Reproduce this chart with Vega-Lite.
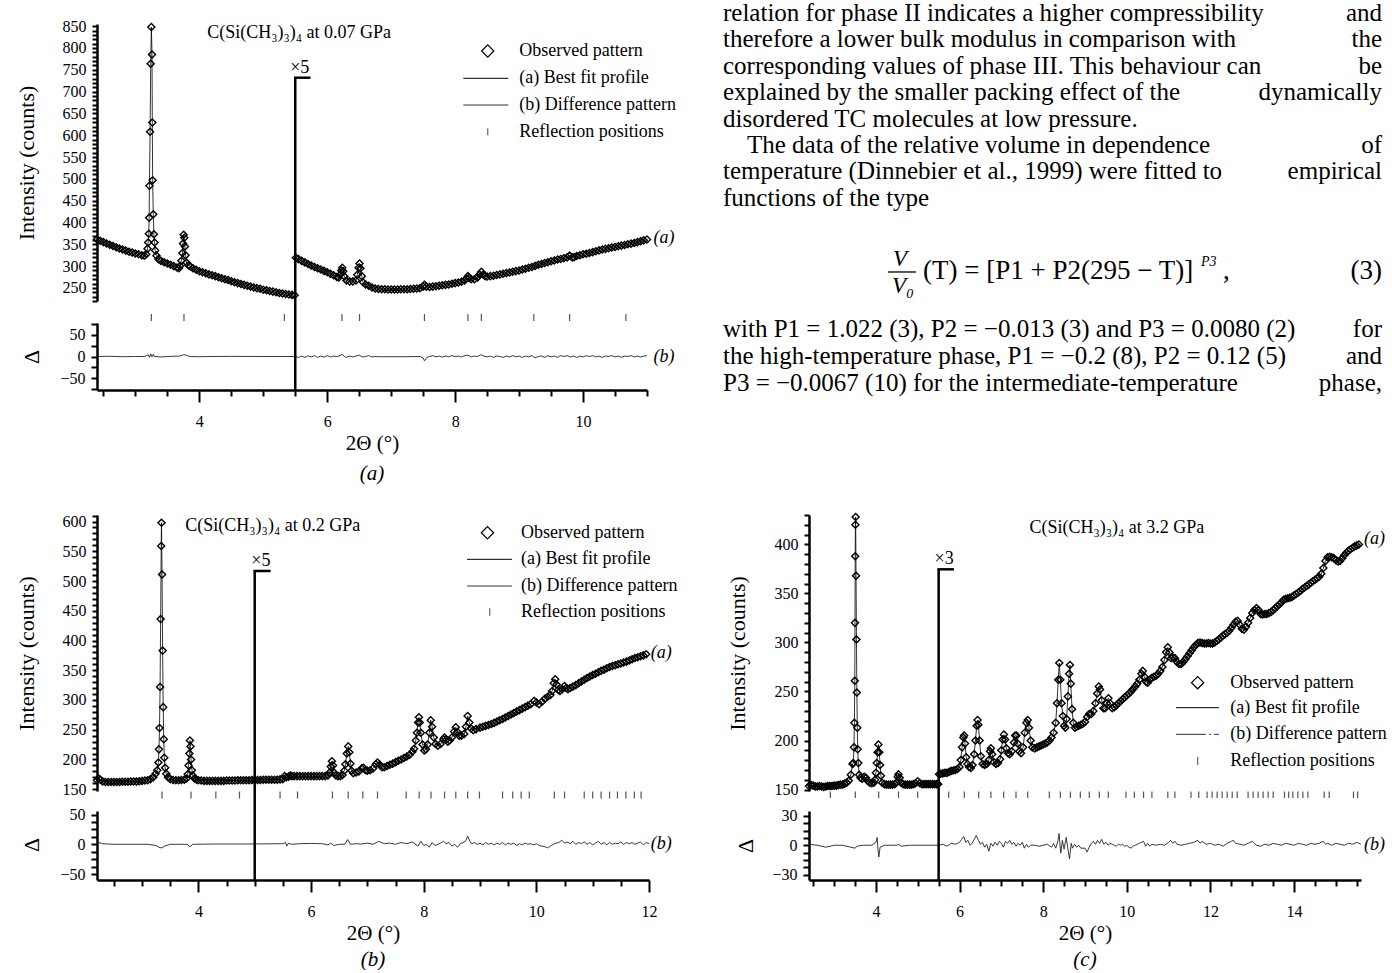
{
"$schema": "https://vega.github.io/schema/vega-lite/v6.json",
"background": "white",
"padding": {"left": 14, "top": 0, "right": 0, "bottom": 0},
"config": {
 "font": "Liberation Serif",
 "view": {"stroke": null},
 "axis": {"grid": false, "ticks": true, "domainColor": "black", "domainWidth": 2.5, "tickColor": "black", "tickOpacity": 1, "tickWidth": 2, "tickSize": 6, "labelColor": "black", "labelFont": "Liberation Serif", "labelFontSize": 16, "titleFont": "Liberation Serif", "titleColor": "black", "titleFontWeight": "normal", "titleFontSize": 22, "labelOverlap": false, "labelFlush": false, "labelBound": false, "labelPadding": 6},
 "title": {"font": "Liberation Serif", "fontWeight": "normal", "color": "black"},
 "text": {"font": "Liberation Serif", "color": "black"}
},
"datasets": {
 "obsA": [{"x":2.4,"y":361},{"x":2.45,"y":358},{"x":2.5,"y":355},{"x":2.55,"y":352},{"x":2.6,"y":349},{"x":2.65,"y":346},{"x":2.7,"y":343},{"x":2.75,"y":340.5},{"x":2.8,"y":338},{"x":2.85,"y":335.5},{"x":2.9,"y":333},{"x":2.95,"y":331},{"x":3.0,"y":329},{"x":3.05,"y":327},{"x":3.1,"y":325},{"x":3.14,"y":324},{"x":3.17,"y":327},{"x":3.19,"y":340},{"x":3.2,"y":354},{"x":3.21,"y":374},{"x":3.215,"y":411},{"x":3.22,"y":484},{"x":3.23,"y":608},{"x":3.24,"y":764},{"x":3.25,"y":848},{"x":3.26,"y":785},{"x":3.265,"y":629},{"x":3.27,"y":497},{"x":3.28,"y":419},{"x":3.29,"y":373},{"x":3.3,"y":354},{"x":3.31,"y":336},{"x":3.33,"y":324},{"x":3.36,"y":316},{"x":3.4,"y":312},{"x":3.45,"y":309},{"x":3.5,"y":306},{"x":3.55,"y":303},{"x":3.6,"y":300},{"x":3.65,"y":297},{"x":3.68,"y":295},{"x":3.7,"y":300},{"x":3.72,"y":312},{"x":3.735,"y":330},{"x":3.745,"y":352},{"x":3.755,"y":372},{"x":3.765,"y":365},{"x":3.775,"y":345},{"x":3.785,"y":325},{"x":3.8,"y":308},{"x":3.83,"y":302},{"x":3.86,"y":299},{"x":3.9,"y":295},{"x":3.95,"y":291.5},{"x":4.0,"y":288},{"x":4.05,"y":286},{"x":4.1,"y":283.5},{"x":4.15,"y":281},{"x":4.2,"y":279},{"x":4.25,"y":277},{"x":4.3,"y":274.5},{"x":4.35,"y":272},{"x":4.4,"y":270},{"x":4.45,"y":268},{"x":4.5,"y":265.5},{"x":4.55,"y":263},{"x":4.6,"y":261},{"x":4.65,"y":259},{"x":4.7,"y":257},{"x":4.75,"y":255},{"x":4.8,"y":253},{"x":4.85,"y":251},{"x":4.9,"y":249.5},{"x":4.95,"y":248},{"x":5.0,"y":246},{"x":5.05,"y":244.5},{"x":5.1,"y":243},{"x":5.15,"y":241.5},{"x":5.2,"y":240},{"x":5.25,"y":238.5},{"x":5.3,"y":237},{"x":5.35,"y":236},{"x":5.4,"y":235},{"x":5.45,"y":234},{"x":5.49,"y":233},{"x":5.51,"y":319},{"x":5.55,"y":316},{"x":5.6,"y":312},{"x":5.65,"y":308.5},{"x":5.7,"y":305},{"x":5.75,"y":301.5},{"x":5.8,"y":298},{"x":5.85,"y":295},{"x":5.9,"y":292},{"x":5.95,"y":289},{"x":6.0,"y":286},{"x":6.05,"y":282.5},{"x":6.1,"y":279},{"x":6.15,"y":275},{"x":6.18,"y":274},{"x":6.2,"y":280},{"x":6.22,"y":290},{"x":6.235,"y":296},{"x":6.25,"y":288},{"x":6.27,"y":276},{"x":6.3,"y":267},{"x":6.35,"y":265},{"x":6.4,"y":265},{"x":6.45,"y":267},{"x":6.47,"y":280},{"x":6.49,"y":296},{"x":6.505,"y":306},{"x":6.52,"y":295},{"x":6.54,"y":277},{"x":6.56,"y":263},{"x":6.6,"y":258},{"x":6.65,"y":255},{"x":6.7,"y":251},{"x":6.75,"y":248.5},{"x":6.8,"y":247.5},{"x":6.85,"y":247},{"x":6.9,"y":247},{"x":6.95,"y":246.5},{"x":7.0,"y":246.5},{"x":7.05,"y":246.5},{"x":7.1,"y":246.5},{"x":7.15,"y":247},{"x":7.2,"y":247},{"x":7.25,"y":247},{"x":7.3,"y":247.5},{"x":7.35,"y":248},{"x":7.4,"y":248.5},{"x":7.45,"y":249.5},{"x":7.5,"y":253},{"x":7.52,"y":257},{"x":7.55,"y":253},{"x":7.6,"y":252},{"x":7.65,"y":253},{"x":7.7,"y":254},{"x":7.75,"y":255},{"x":7.8,"y":256},{"x":7.85,"y":257},{"x":7.9,"y":258},{"x":7.95,"y":259.5},{"x":8.0,"y":261},{"x":8.05,"y":262.5},{"x":8.1,"y":264},{"x":8.15,"y":267},{"x":8.18,"y":272},{"x":8.2,"y":277},{"x":8.22,"y":273},{"x":8.25,"y":270},{"x":8.3,"y":270},{"x":8.35,"y":274},{"x":8.38,"y":281},{"x":8.41,"y":287},{"x":8.44,"y":280},{"x":8.47,"y":277},{"x":8.5,"y":276},{"x":8.55,"y":277},{"x":8.6,"y":278},{"x":8.65,"y":279.5},{"x":8.7,"y":281},{"x":8.75,"y":282.5},{"x":8.8,"y":284},{"x":8.85,"y":285.5},{"x":8.9,"y":287},{"x":8.95,"y":288.5},{"x":9.0,"y":290},{"x":9.05,"y":292},{"x":9.1,"y":294},{"x":9.15,"y":296},{"x":9.2,"y":298},{"x":9.25,"y":300.5},{"x":9.3,"y":303},{"x":9.35,"y":305},{"x":9.4,"y":307},{"x":9.45,"y":309},{"x":9.5,"y":311},{"x":9.55,"y":313},{"x":9.6,"y":315},{"x":9.65,"y":316.5},{"x":9.7,"y":318},{"x":9.75,"y":320},{"x":9.79,"y":324},{"x":9.83,"y":320},{"x":9.86,"y":320.5},{"x":9.9,"y":323},{"x":9.95,"y":325},{"x":10.0,"y":327},{"x":10.05,"y":328.5},{"x":10.1,"y":330},{"x":10.15,"y":332},{"x":10.2,"y":334},{"x":10.25,"y":336},{"x":10.3,"y":338},{"x":10.35,"y":339.5},{"x":10.4,"y":341},{"x":10.45,"y":342.5},{"x":10.5,"y":344},{"x":10.55,"y":345.5},{"x":10.6,"y":347},{"x":10.65,"y":348.5},{"x":10.7,"y":350},{"x":10.75,"y":351.5},{"x":10.8,"y":353},{"x":10.85,"y":355},{"x":10.9,"y":357},{"x":10.95,"y":359},{"x":11.0,"y":361}],
 "diffA": [{"x":2.4,"d":0},{"x":2.6,"d":0.5},{"x":2.8,"d":-0.5},{"x":3.0,"d":0},{"x":3.15,"d":0},{"x":3.2,"d":4},{"x":3.22,"d":-2},{"x":3.24,"d":6},{"x":3.26,"d":-1},{"x":3.28,"d":5},{"x":3.3,"d":0},{"x":3.4,"d":-1},{"x":3.5,"d":0},{"x":3.7,"d":1},{"x":3.75,"d":4},{"x":3.8,"d":3},{"x":3.85,"d":0},{"x":4.0,"d":-0.5},{"x":4.2,"d":0},{"x":4.5,"d":0.3},{"x":5.0,"d":0},{"x":5.5,"d":0},{"x":5.55,"d":-2},{"x":5.6,"d":1},{"x":5.65,"d":-2},{"x":5.7,"d":1.5},{"x":5.75,"d":-1},{"x":5.8,"d":2},{"x":5.85,"d":-2},{"x":5.9,"d":1},{"x":5.95,"d":-1.5},{"x":6.0,"d":2},{"x":6.05,"d":-1},{"x":6.1,"d":1},{"x":6.15,"d":0},{"x":6.2,"d":2},{"x":6.23,"d":5},{"x":6.27,"d":0},{"x":6.3,"d":-2},{"x":6.35,"d":1},{"x":6.4,"d":-1},{"x":6.45,"d":1},{"x":6.5,"d":3},{"x":6.55,"d":-1},{"x":6.6,"d":0},{"x":6.65,"d":2},{"x":6.7,"d":-1},{"x":6.75,"d":0},{"x":6.8,"d":-0.5},{"x":7.0,"d":-0.5},{"x":7.2,"d":-0.5},{"x":7.45,"d":0},{"x":7.5,"d":-3},{"x":7.52,"d":-10},{"x":7.56,"d":-2},{"x":7.6,"d":0},{"x":7.65,"d":2},{"x":7.7,"d":-1},{"x":7.75,"d":1},{"x":7.8,"d":-1.5},{"x":7.85,"d":1},{"x":7.9,"d":-1},{"x":7.95,"d":2},{"x":8.0,"d":0},{"x":8.05,"d":1},{"x":8.1,"d":-1},{"x":8.15,"d":2},{"x":8.2,"d":3},{"x":8.25,"d":-1},{"x":8.3,"d":1},{"x":8.35,"d":0},{"x":8.4,"d":4},{"x":8.45,"d":1},{"x":8.5,"d":-1},{"x":8.55,"d":1},{"x":8.6,"d":-2},{"x":8.65,"d":1},{"x":8.7,"d":0},{"x":8.75,"d":-2},{"x":8.8,"d":1},{"x":8.85,"d":-1},{"x":8.9,"d":2},{"x":8.95,"d":-1},{"x":9.0,"d":1},{"x":9.05,"d":-2},{"x":9.1,"d":1},{"x":9.15,"d":-1},{"x":9.2,"d":2},{"x":9.25,"d":-3},{"x":9.3,"d":0},{"x":9.35,"d":1},{"x":9.4,"d":-2},{"x":9.45,"d":2},{"x":9.5,"d":-1},{"x":9.55,"d":1},{"x":9.6,"d":-2},{"x":9.65,"d":2},{"x":9.7,"d":0},{"x":9.75,"d":2},{"x":9.8,"d":-1},{"x":9.85,"d":1},{"x":9.9,"d":-2},{"x":9.95,"d":1},{"x":10.0,"d":-1},{"x":10.05,"d":2},{"x":10.1,"d":0},{"x":10.15,"d":2},{"x":10.2,"d":-1},{"x":10.25,"d":1},{"x":10.3,"d":-2},{"x":10.35,"d":1},{"x":10.4,"d":0},{"x":10.45,"d":2},{"x":10.5,"d":-1},{"x":10.55,"d":1},{"x":10.6,"d":-2},{"x":10.65,"d":1},{"x":10.7,"d":0},{"x":10.75,"d":2},{"x":10.8,"d":-1},{"x":10.85,"d":1},{"x":10.9,"d":-1},{"x":10.95,"d":1},{"x":11.0,"d":2}],
 "reflA": [{"x":3.25},{"x":3.76},{"x":5.33},{"x":6.23},{"x":6.505},{"x":7.52},{"x":8.2},{"x":8.41},{"x":9.23},{"x":9.79},{"x":10.67}],
 "obsB": [{"x":2.2,"y":165},{"x":2.23,"y":168},{"x":2.26,"y":166},{"x":2.3,"y":163},{"x":2.35,"y":162},{"x":2.4,"y":162},{"x":2.45,"y":162},{"x":2.5,"y":162},{"x":2.55,"y":162},{"x":2.6,"y":162},{"x":2.65,"y":162.5},{"x":2.7,"y":162.5},{"x":2.75,"y":162.5},{"x":2.8,"y":163},{"x":2.85,"y":163},{"x":2.9,"y":163},{"x":2.95,"y":163.5},{"x":3.0,"y":164},{"x":3.05,"y":164.5},{"x":3.1,"y":165},{"x":3.15,"y":167},{"x":3.2,"y":170},{"x":3.24,"y":176},{"x":3.27,"y":182},{"x":3.29,"y":195},{"x":3.3,"y":217},{"x":3.31,"y":253},{"x":3.32,"y":322},{"x":3.33,"y":436},{"x":3.34,"y":559},{"x":3.345,"y":598},{"x":3.355,"y":511},{"x":3.365,"y":383},{"x":3.375,"y":288},{"x":3.385,"y":234},{"x":3.395,"y":203},{"x":3.41,"y":186},{"x":3.43,"y":176},{"x":3.46,"y":170},{"x":3.5,"y":167},{"x":3.55,"y":165.5},{"x":3.6,"y":165},{"x":3.65,"y":165},{"x":3.7,"y":165.5},{"x":3.75,"y":166},{"x":3.79,"y":168},{"x":3.81,"y":175},{"x":3.825,"y":190},{"x":3.84,"y":210},{"x":3.85,"y":232},{"x":3.86,"y":222},{"x":3.87,"y":200},{"x":3.885,"y":182},{"x":3.9,"y":173},{"x":3.93,"y":168},{"x":3.97,"y":166},{"x":4.0,"y":165},{"x":4.05,"y":164.5},{"x":4.1,"y":164},{"x":4.15,"y":164},{"x":4.2,"y":164},{"x":4.25,"y":164},{"x":4.3,"y":164},{"x":4.35,"y":164},{"x":4.4,"y":164},{"x":4.45,"y":164},{"x":4.5,"y":164.5},{"x":4.55,"y":164.5},{"x":4.6,"y":164.5},{"x":4.65,"y":164.5},{"x":4.7,"y":165},{"x":4.75,"y":165},{"x":4.8,"y":165},{"x":4.85,"y":165},{"x":4.9,"y":165},{"x":4.95,"y":165.5},{"x":5.0,"y":165.5},{"x":5.05,"y":165.5},{"x":5.1,"y":165.5},{"x":5.15,"y":166},{"x":5.2,"y":166},{"x":5.25,"y":166},{"x":5.3,"y":166},{"x":5.35,"y":166},{"x":5.4,"y":166},{"x":5.45,"y":166.5},{"x":5.5,"y":167},{"x":5.53,"y":172},{"x":5.56,"y":170},{"x":5.6,"y":171},{"x":5.63,"y":173},{"x":5.66,"y":172},{"x":5.7,"y":172},{"x":5.75,"y":172},{"x":5.8,"y":172},{"x":5.85,"y":172},{"x":5.9,"y":172},{"x":5.95,"y":172},{"x":6.0,"y":172},{"x":6.05,"y":172},{"x":6.1,"y":172},{"x":6.15,"y":172},{"x":6.2,"y":172},{"x":6.25,"y":172},{"x":6.3,"y":173},{"x":6.33,"y":178},{"x":6.35,"y":188},{"x":6.37,"y":197},{"x":6.39,"y":190},{"x":6.41,"y":178},{"x":6.44,"y":173},{"x":6.48,"y":172},{"x":6.52,"y":172},{"x":6.56,"y":174},{"x":6.59,"y":181},{"x":6.61,"y":192},{"x":6.635,"y":210},{"x":6.66,"y":222},{"x":6.68,"y":212},{"x":6.7,"y":193},{"x":6.72,"y":181},{"x":6.75,"y":177},{"x":6.8,"y":178},{"x":6.85,"y":180},{"x":6.9,"y":185},{"x":6.93,"y":186},{"x":6.97,"y":182},{"x":7.0,"y":181},{"x":7.05,"y":182},{"x":7.1,"y":185},{"x":7.15,"y":192},{"x":7.18,"y":195},{"x":7.22,"y":191},{"x":7.26,"y":187},{"x":7.3,"y":187},{"x":7.35,"y":189},{"x":7.4,"y":191},{"x":7.45,"y":193},{"x":7.5,"y":195.5},{"x":7.55,"y":198},{"x":7.6,"y":200},{"x":7.65,"y":202.5},{"x":7.7,"y":205},{"x":7.75,"y":208},{"x":7.8,"y":213},{"x":7.83,"y":218},{"x":7.86,"y":232},{"x":7.88,"y":245},{"x":7.9,"y":262},{"x":7.915,"y":271},{"x":7.93,"y":262},{"x":7.95,"y":245},{"x":7.98,"y":225},{"x":8.01,"y":215},{"x":8.04,"y":217},{"x":8.07,"y":225},{"x":8.1,"y":245},{"x":8.125,"y":266},{"x":8.15,"y":255},{"x":8.18,"y":237},{"x":8.21,"y":226},{"x":8.25,"y":223},{"x":8.3,"y":226},{"x":8.35,"y":234},{"x":8.37,"y":237},{"x":8.4,"y":233},{"x":8.43,"y":230},{"x":8.46,"y":232},{"x":8.5,"y":237},{"x":8.54,"y":247},{"x":8.57,"y":254},{"x":8.6,"y":246},{"x":8.63,"y":240},{"x":8.67,"y":240},{"x":8.72,"y":243},{"x":8.75,"y":255},{"x":8.78,"y":273},{"x":8.81,"y":262},{"x":8.84,"y":252},{"x":8.88,"y":249},{"x":8.93,"y":251},{"x":9.0,"y":253.5},{"x":9.05,"y":255},{"x":9.1,"y":256.5},{"x":9.15,"y":258},{"x":9.2,"y":259.5},{"x":9.25,"y":261.5},{"x":9.3,"y":264},{"x":9.35,"y":266},{"x":9.4,"y":268},{"x":9.45,"y":270.5},{"x":9.5,"y":273},{"x":9.55,"y":275.5},{"x":9.6,"y":278},{"x":9.65,"y":280.5},{"x":9.7,"y":283},{"x":9.75,"y":285.5},{"x":9.8,"y":288},{"x":9.85,"y":290.5},{"x":9.9,"y":293},{"x":9.96,"y":298.5},{"x":10.0,"y":296},{"x":10.05,"y":293},{"x":10.1,"y":297},{"x":10.15,"y":302},{"x":10.2,"y":305.5},{"x":10.25,"y":308.5},{"x":10.28,"y":315},{"x":10.31,"y":328},{"x":10.335,"y":335},{"x":10.36,"y":326},{"x":10.39,"y":317},{"x":10.42,"y":315},{"x":10.46,"y":318},{"x":10.5,"y":323.5},{"x":10.53,"y":320},{"x":10.56,"y":318},{"x":10.6,"y":320},{"x":10.65,"y":322.5},{"x":10.7,"y":325},{"x":10.75,"y":328},{"x":10.8,"y":331},{"x":10.85,"y":334},{"x":10.9,"y":337},{"x":10.95,"y":339.5},{"x":11.0,"y":342},{"x":11.05,"y":344},{"x":11.1,"y":346.5},{"x":11.15,"y":349},{"x":11.2,"y":351},{"x":11.25,"y":353.5},{"x":11.3,"y":355.5},{"x":11.35,"y":357},{"x":11.4,"y":358.5},{"x":11.45,"y":360},{"x":11.5,"y":361.5},{"x":11.55,"y":363},{"x":11.6,"y":364.5},{"x":11.65,"y":366.5},{"x":11.7,"y":368.5},{"x":11.75,"y":370.5},{"x":11.8,"y":372},{"x":11.85,"y":373.5},{"x":11.9,"y":375},{"x":11.95,"y":377}],
 "diffB": [{"x":2.2,"d":4},{"x":2.3,"d":1},{"x":2.5,"d":0},{"x":2.8,"d":0},{"x":3.1,"d":0},{"x":3.25,"d":-2},{"x":3.3,"d":-5},{"x":3.35,"d":-6},{"x":3.4,"d":-3},{"x":3.5,"d":0},{"x":3.8,"d":0},{"x":3.85,"d":-4},{"x":3.9,"d":0},{"x":4.3,"d":0.5},{"x":4.8,"d":0.5},{"x":5.5,"d":1},{"x":5.55,"d":3},{"x":5.57,"d":-3},{"x":5.6,"d":2},{"x":5.65,"d":0},{"x":5.8,"d":1},{"x":6.0,"d":1.5},{"x":6.2,"d":1},{"x":6.3,"d":-1},{"x":6.35,"d":2},{"x":6.4,"d":-2},{"x":6.5,"d":0},{"x":6.6,"d":0},{"x":6.65,"d":8},{"x":6.7,"d":0},{"x":6.8,"d":1},{"x":6.9,"d":0.5},{"x":7.0,"d":2},{"x":7.1,"d":0},{"x":7.2,"d":5},{"x":7.3,"d":1},{"x":7.4,"d":2},{"x":7.5,"d":0},{"x":7.6,"d":3},{"x":7.7,"d":1},{"x":7.8,"d":4},{"x":7.9,"d":-3},{"x":7.95,"d":5},{"x":8.0,"d":-2},{"x":8.05,"d":0},{"x":8.1,"d":-5},{"x":8.15,"d":3},{"x":8.2,"d":-2},{"x":8.3,"d":2},{"x":8.35,"d":5},{"x":8.4,"d":1},{"x":8.45,"d":3},{"x":8.5,"d":-3},{"x":8.55,"d":0},{"x":8.6,"d":-5},{"x":8.65,"d":1},{"x":8.7,"d":3},{"x":8.75,"d":6},{"x":8.78,"d":14},{"x":8.82,"d":5},{"x":8.85,"d":1},{"x":8.9,"d":3},{"x":8.95,"d":0},{"x":9.0,"d":2},{"x":9.05,"d":-1},{"x":9.1,"d":3},{"x":9.15,"d":0},{"x":9.2,"d":2},{"x":9.25,"d":-1},{"x":9.3,"d":2},{"x":9.35,"d":0},{"x":9.4,"d":3},{"x":9.45,"d":-1},{"x":9.5,"d":2},{"x":9.55,"d":0},{"x":9.6,"d":2},{"x":9.65,"d":-2},{"x":9.7,"d":1},{"x":9.75,"d":-1},{"x":9.8,"d":2},{"x":9.85,"d":0},{"x":9.9,"d":1},{"x":9.95,"d":-1},{"x":10.0,"d":1},{"x":10.05,"d":-2},{"x":10.1,"d":-3},{"x":10.15,"d":-4},{"x":10.2,"d":-6},{"x":10.25,"d":-3},{"x":10.3,"d":0},{"x":10.35,"d":2},{"x":10.4,"d":3},{"x":10.45,"d":7},{"x":10.5,"d":2},{"x":10.55,"d":4},{"x":10.6,"d":1},{"x":10.65,"d":5},{"x":10.7,"d":0},{"x":10.75,"d":3},{"x":10.8,"d":1},{"x":10.85,"d":4},{"x":10.9,"d":0},{"x":10.95,"d":3},{"x":11.0,"d":-1},{"x":11.05,"d":2},{"x":11.1,"d":5},{"x":11.15,"d":0},{"x":11.2,"d":3},{"x":11.25,"d":-1},{"x":11.3,"d":3},{"x":11.35,"d":0},{"x":11.4,"d":2},{"x":11.45,"d":1},{"x":11.5,"d":4},{"x":11.55,"d":0},{"x":11.6,"d":3},{"x":11.65,"d":1},{"x":11.7,"d":3},{"x":11.75,"d":0},{"x":11.8,"d":2},{"x":11.85,"d":4},{"x":11.9,"d":-1},{"x":11.95,"d":3},{"x":12.0,"d":1}],
 "reflB": [{"x":3.354},{"x":3.869},{"x":4.31},{"x":4.73},{"x":5.45},{"x":5.76},{"x":6.38},{"x":6.66},{"x":6.92},{"x":7.18},{"x":7.69},{"x":7.92},{"x":8.13},{"x":8.37},{"x":8.57},{"x":8.78},{"x":8.99},{"x":9.4},{"x":9.58},{"x":9.73},{"x":9.875},{"x":10.32},{"x":10.5},{"x":10.85},{"x":11.0},{"x":11.15},{"x":11.3},{"x":11.44},{"x":11.59},{"x":11.74},{"x":11.86}],
 "obsC": [{"x":2.4,"y":153.5},{"x":2.45,"y":154.5},{"x":2.5,"y":154},{"x":2.55,"y":153},{"x":2.6,"y":153},{"x":2.65,"y":153.5},{"x":2.7,"y":153},{"x":2.75,"y":152.5},{"x":2.8,"y":153},{"x":2.85,"y":153.5},{"x":2.9,"y":153.5},{"x":2.95,"y":153.5},{"x":3.0,"y":154},{"x":3.05,"y":154},{"x":3.1,"y":154.5},{"x":3.15,"y":155},{"x":3.2,"y":155},{"x":3.25,"y":156},{"x":3.3,"y":157},{"x":3.35,"y":159},{"x":3.4,"y":165},{"x":3.44,"y":176},{"x":3.46,"y":177},{"x":3.475,"y":193},{"x":3.485,"y":218},{"x":3.495,"y":261},{"x":3.5,"y":320},{"x":3.505,"y":388},{"x":3.51,"y":420},{"x":3.515,"y":428},{"x":3.525,"y":368},{"x":3.535,"y":303},{"x":3.545,"y":249},{"x":3.555,"y":213},{"x":3.565,"y":191},{"x":3.58,"y":177},{"x":3.6,"y":165},{"x":3.63,"y":162},{"x":3.67,"y":161},{"x":3.72,"y":163},{"x":3.76,"y":162},{"x":3.8,"y":159},{"x":3.85,"y":157},{"x":3.9,"y":156.5},{"x":3.95,"y":157},{"x":3.98,"y":160},{"x":4.0,"y":167},{"x":4.02,"y":177},{"x":4.04,"y":188},{"x":4.06,"y":196},{"x":4.08,"y":188},{"x":4.1,"y":175},{"x":4.12,"y":164},{"x":4.15,"y":157},{"x":4.2,"y":155.5},{"x":4.25,"y":155},{"x":4.3,"y":155},{"x":4.35,"y":155},{"x":4.4,"y":155},{"x":4.45,"y":155.5},{"x":4.49,"y":157},{"x":4.52,"y":163},{"x":4.54,"y":165.5},{"x":4.57,"y":162},{"x":4.6,"y":157},{"x":4.65,"y":155.5},{"x":4.7,"y":155},{"x":4.75,"y":155},{"x":4.8,"y":155},{"x":4.85,"y":155},{"x":4.9,"y":155.5},{"x":4.95,"y":156.5},{"x":5.0,"y":158.5},{"x":5.05,"y":156.5},{"x":5.1,"y":155.5},{"x":5.15,"y":155.5},{"x":5.2,"y":155.5},{"x":5.25,"y":155.5},{"x":5.3,"y":155.5},{"x":5.35,"y":155.5},{"x":5.4,"y":155.5},{"x":5.45,"y":155.5},{"x":5.49,"y":155.5},{"x":5.51,"y":165.5},{"x":5.55,"y":166},{"x":5.6,"y":166.5},{"x":5.65,"y":167},{"x":5.7,"y":167},{"x":5.75,"y":168},{"x":5.8,"y":169},{"x":5.85,"y":169.5},{"x":5.9,"y":170},{"x":5.95,"y":171},{"x":6.0,"y":173},{"x":6.03,"y":180},{"x":6.06,"y":193},{"x":6.09,"y":203},{"x":6.11,"y":205},{"x":6.13,"y":197},{"x":6.16,"y":183},{"x":6.19,"y":176},{"x":6.23,"y":173},{"x":6.27,"y":172},{"x":6.31,"y":175},{"x":6.35,"y":186},{"x":6.38,"y":200},{"x":6.41,"y":215},{"x":6.43,"y":221},{"x":6.45,"y":216},{"x":6.48,"y":200},{"x":6.51,"y":184},{"x":6.55,"y":176},{"x":6.6,"y":175},{"x":6.65,"y":176},{"x":6.7,"y":180},{"x":6.73,"y":189},{"x":6.75,"y":192},{"x":6.78,"y":186},{"x":6.82,"y":178},{"x":6.87,"y":176},{"x":6.92,"y":177},{"x":6.97,"y":181},{"x":7.0,"y":190},{"x":7.03,"y":201},{"x":7.06,"y":206},{"x":7.09,"y":201},{"x":7.12,"y":192},{"x":7.16,"y":187},{"x":7.2,"y":186},{"x":7.25,"y":189},{"x":7.3,"y":198},{"x":7.33,"y":205},{"x":7.36,"y":205},{"x":7.39,"y":197},{"x":7.43,"y":189},{"x":7.47,"y":187},{"x":7.52,"y":193},{"x":7.56,"y":208},{"x":7.6,"y":218},{"x":7.63,"y":221},{"x":7.66,"y":213},{"x":7.7,"y":200},{"x":7.74,"y":193},{"x":7.8,"y":192},{"x":7.85,"y":193},{"x":7.9,"y":194},{"x":7.95,"y":195},{"x":8.0,"y":196},{"x":8.05,"y":197},{"x":8.1,"y":198},{"x":8.15,"y":200},{"x":8.2,"y":203},{"x":8.25,"y":208},{"x":8.3,"y":218},{"x":8.33,"y":238},{"x":8.36,"y":262},{"x":8.385,"y":279},{"x":8.41,"y":262},{"x":8.44,"y":238},{"x":8.47,"y":225},{"x":8.5,"y":215},{"x":8.53,"y":213},{"x":8.56,"y":222},{"x":8.59,"y":245},{"x":8.62,"y":268},{"x":8.64,"y":277},{"x":8.66,"y":258},{"x":8.69,"y":232},{"x":8.72,"y":218},{"x":8.76,"y":213},{"x":8.8,"y":214},{"x":8.85,"y":215},{"x":8.9,"y":216},{"x":8.95,"y":217},{"x":9.0,"y":219},{"x":9.05,"y":224},{"x":9.1,"y":227},{"x":9.15,"y":227},{"x":9.2,"y":230},{"x":9.25,"y":238},{"x":9.29,"y":248},{"x":9.33,"y":255},{"x":9.36,"y":252},{"x":9.4,"y":241},{"x":9.44,"y":233},{"x":9.48,"y":233},{"x":9.52,"y":238},{"x":9.56,"y":243},{"x":9.6,"y":238},{"x":9.65,"y":233},{"x":9.7,"y":234},{"x":9.75,"y":236},{"x":9.8,"y":238},{"x":9.85,"y":240},{"x":9.9,"y":242},{"x":9.95,"y":244},{"x":10.0,"y":246},{"x":10.05,"y":248},{"x":10.1,"y":250},{"x":10.15,"y":252.5},{"x":10.2,"y":255},{"x":10.25,"y":258},{"x":10.3,"y":262},{"x":10.35,"y":268},{"x":10.38,"y":271},{"x":10.42,"y":265},{"x":10.46,"y":260},{"x":10.5,"y":259},{"x":10.55,"y":262},{"x":10.6,"y":264},{"x":10.65,"y":265},{"x":10.7,"y":266},{"x":10.75,"y":268},{"x":10.8,"y":271},{"x":10.85,"y":275},{"x":10.9,"y":282},{"x":10.94,"y":290},{"x":10.98,"y":295},{"x":11.02,"y":290},{"x":11.06,"y":284},{"x":11.1,"y":285},{"x":11.15,"y":284},{"x":11.2,"y":280},{"x":11.25,"y":278},{"x":11.3,"y":278},{"x":11.35,"y":280},{"x":11.4,"y":283},{"x":11.45,"y":286},{"x":11.5,"y":289},{"x":11.55,"y":292},{"x":11.6,"y":295},{"x":11.65,"y":297.5},{"x":11.7,"y":299.5},{"x":11.75,"y":300},{"x":11.8,"y":299.5},{"x":11.85,"y":299},{"x":11.9,"y":299},{"x":11.95,"y":299.5},{"x":12.0,"y":299},{"x":12.05,"y":299},{"x":12.1,"y":300},{"x":12.15,"y":301.5},{"x":12.2,"y":303},{"x":12.25,"y":305},{"x":12.3,"y":307},{"x":12.35,"y":308.5},{"x":12.4,"y":310},{"x":12.45,"y":312},{"x":12.5,"y":315},{"x":12.55,"y":318},{"x":12.6,"y":321},{"x":12.65,"y":322},{"x":12.7,"y":318},{"x":12.75,"y":314},{"x":12.8,"y":313},{"x":12.85,"y":316},{"x":12.9,"y":320},{"x":12.95,"y":325},{"x":13.0,"y":330},{"x":13.05,"y":333},{"x":13.1,"y":335},{"x":13.15,"y":333},{"x":13.2,"y":329},{"x":13.25,"y":328.5},{"x":13.3,"y":329},{"x":13.35,"y":329},{"x":13.4,"y":330},{"x":13.45,"y":331},{"x":13.5,"y":333},{"x":13.55,"y":335},{"x":13.6,"y":337},{"x":13.65,"y":339},{"x":13.7,"y":341},{"x":13.75,"y":343.5},{"x":13.8,"y":344.5},{"x":13.85,"y":345},{"x":13.9,"y":345.5},{"x":13.95,"y":346.5},{"x":14.0,"y":348},{"x":14.05,"y":349.5},{"x":14.1,"y":351},{"x":14.15,"y":352.5},{"x":14.2,"y":354.5},{"x":14.25,"y":356},{"x":14.3,"y":357.5},{"x":14.35,"y":359},{"x":14.4,"y":361},{"x":14.45,"y":362.5},{"x":14.5,"y":364},{"x":14.55,"y":365.5},{"x":14.6,"y":367},{"x":14.65,"y":370},{"x":14.7,"y":376},{"x":14.75,"y":383},{"x":14.8,"y":387},{"x":14.85,"y":387.5},{"x":14.9,"y":387},{"x":14.95,"y":386},{"x":15.0,"y":384},{"x":15.05,"y":382.5},{"x":15.1,"y":383},{"x":15.15,"y":386},{"x":15.2,"y":389},{"x":15.25,"y":391.5},{"x":15.3,"y":393.5},{"x":15.35,"y":395},{"x":15.4,"y":396.5},{"x":15.45,"y":398},{"x":15.5,"y":399},{"x":15.55,"y":400}],
 "diffC": [{"x":2.4,"d":1},{"x":2.6,"d":0},{"x":2.8,"d":-2},{"x":3.0,"d":0},{"x":3.2,"d":0},{"x":3.4,"d":-2},{"x":3.5,"d":-3},{"x":3.55,"d":-1},{"x":3.7,"d":0},{"x":3.9,"d":0},{"x":4.0,"d":3},{"x":4.03,"d":8},{"x":4.05,"d":-5},{"x":4.07,"d":-12},{"x":4.1,"d":-2},{"x":4.2,"d":0},{"x":4.5,"d":0},{"x":4.55,"d":1},{"x":4.6,"d":-1},{"x":4.8,"d":0},{"x":5.0,"d":0},{"x":5.5,"d":0},{"x":5.6,"d":1},{"x":5.7,"d":-1},{"x":5.8,"d":2},{"x":5.9,"d":1},{"x":6.0,"d":3},{"x":6.05,"d":6},{"x":6.1,"d":9},{"x":6.15,"d":3},{"x":6.2,"d":5},{"x":6.25,"d":0},{"x":6.3,"d":2},{"x":6.35,"d":6},{"x":6.4,"d":10},{"x":6.45,"d":5},{"x":6.5,"d":1},{"x":6.55,"d":3},{"x":6.6,"d":-2},{"x":6.65,"d":1},{"x":6.7,"d":-6},{"x":6.75,"d":2},{"x":6.8,"d":-1},{"x":6.85,"d":3},{"x":6.9,"d":0},{"x":6.95,"d":4},{"x":7.0,"d":2},{"x":7.05,"d":-2},{"x":7.1,"d":4},{"x":7.15,"d":2},{"x":7.2,"d":5},{"x":7.25,"d":1},{"x":7.3,"d":3},{"x":7.35,"d":-1},{"x":7.4,"d":2},{"x":7.45,"d":0},{"x":7.5,"d":3},{"x":7.55,"d":-3},{"x":7.6,"d":1},{"x":7.65,"d":-2},{"x":7.7,"d":0},{"x":7.8,"d":0},{"x":7.9,"d":-1},{"x":8.0,"d":0},{"x":8.1,"d":1},{"x":8.2,"d":-2},{"x":8.25,"d":2},{"x":8.3,"d":-3},{"x":8.35,"d":4},{"x":8.38,"d":12},{"x":8.42,"d":-8},{"x":8.46,"d":5},{"x":8.5,"d":-4},{"x":8.55,"d":8},{"x":8.6,"d":-6},{"x":8.63,"d":-14},{"x":8.67,"d":2},{"x":8.7,"d":-3},{"x":8.75,"d":1},{"x":8.8,"d":-2},{"x":8.85,"d":0},{"x":8.9,"d":-3},{"x":9.0,"d":-3},{"x":9.05,"d":-7},{"x":9.1,"d":-2},{"x":9.15,"d":2},{"x":9.2,"d":4},{"x":9.25,"d":1},{"x":9.3,"d":5},{"x":9.35,"d":2},{"x":9.4,"d":6},{"x":9.45,"d":1},{"x":9.5,"d":3},{"x":9.55,"d":0},{"x":9.6,"d":2},{"x":9.65,"d":1},{"x":9.7,"d":0},{"x":9.75,"d":-1},{"x":9.8,"d":1},{"x":9.85,"d":0},{"x":9.9,"d":1},{"x":9.95,"d":-1},{"x":10.0,"d":0},{"x":10.05,"d":-2},{"x":10.1,"d":-3},{"x":10.15,"d":-1},{"x":10.2,"d":0},{"x":10.3,"d":2},{"x":10.4,"d":4},{"x":10.45,"d":-1},{"x":10.5,"d":2},{"x":10.55,"d":-1},{"x":10.6,"d":1},{"x":10.7,"d":0},{"x":10.8,"d":1},{"x":10.9,"d":0},{"x":11.0,"d":3},{"x":11.05,"d":5},{"x":11.1,"d":2},{"x":11.15,"d":4},{"x":11.2,"d":1},{"x":11.3,"d":0},{"x":11.4,"d":1},{"x":11.5,"d":2},{"x":11.6,"d":3},{"x":11.7,"d":5},{"x":11.75,"d":2},{"x":11.8,"d":4},{"x":11.9,"d":1},{"x":12.0,"d":2},{"x":12.1,"d":0},{"x":12.2,"d":1},{"x":12.3,"d":-1},{"x":12.4,"d":2},{"x":12.5,"d":4},{"x":12.55,"d":5},{"x":12.6,"d":2},{"x":12.7,"d":1},{"x":12.8,"d":0},{"x":12.9,"d":2},{"x":13.0,"d":4},{"x":13.05,"d":2},{"x":13.1,"d":0},{"x":13.2,"d":-1},{"x":13.3,"d":1},{"x":13.4,"d":0},{"x":13.5,"d":2},{"x":13.6,"d":1},{"x":13.7,"d":0},{"x":13.8,"d":2},{"x":13.9,"d":1},{"x":14.0,"d":0},{"x":14.1,"d":2},{"x":14.2,"d":1},{"x":14.3,"d":0},{"x":14.4,"d":2},{"x":14.5,"d":1},{"x":14.6,"d":2},{"x":14.7,"d":4},{"x":14.75,"d":1},{"x":14.8,"d":2},{"x":14.9,"d":0},{"x":15.0,"d":2},{"x":15.1,"d":1},{"x":15.2,"d":0},{"x":15.3,"d":2},{"x":15.4,"d":1},{"x":15.5,"d":3},{"x":15.6,"d":1}],
 "reflC": [{"x":2.91},{"x":3.508},{"x":4.066},{"x":4.54},{"x":5.0},{"x":5.74},{"x":6.114},{"x":6.457},{"x":6.75},{"x":7.055},{"x":7.35},{"x":7.63},{"x":8.147},{"x":8.41},{"x":8.65},{"x":8.888},{"x":9.103},{"x":9.343},{"x":9.557},{"x":9.98},{"x":10.18},{"x":10.4},{"x":10.6},{"x":10.98},{"x":11.15},{"x":11.535},{"x":11.72},{"x":11.92},{"x":12.04},{"x":12.16},{"x":12.28},{"x":12.4},{"x":12.52},{"x":12.64},{"x":12.9},{"x":13.02},{"x":13.14},{"x":13.26},{"x":13.38},{"x":13.5},{"x":13.77},{"x":13.87},{"x":13.97},{"x":14.09},{"x":14.21},{"x":14.33},{"x":14.72},{"x":14.84},{"x":15.42},{"x":15.52}],
 "textL": [{"row":1,"t":"relation for phase II indicates a higher compressibility"},{"row":2,"t":"therefore a lower bulk modulus in comparison with"},{"row":3,"t":"corresponding values of phase III. This behaviour can"},{"row":4,"t":"explained by the smaller packing effect of the"},{"row":5,"t":"disordered TC molecules at low pressure."},{"row":7,"t":"temperature (Dinnebier et al., 1999) were fitted to"},{"row":8,"t":"functions of the type"},{"row":12.97,"t":"with P1 = 1.022 (3), P2 = −0.013 (3) and P3 = 0.0080 (2)"},{"row":13.98,"t":"the high-temperature phase, P1 = −0.2 (8), P2 = 0.12 (5)"},{"row":15.0,"t":"P3 = −0.0067 (10) for the intermediate-temperature"}],
 "textR": [{"row":1,"t":"and"},{"row":2,"t":"the"},{"row":3,"t":"be"},{"row":4,"t":"dynamically"},{"row":6,"t":"of"},{"row":7,"t":"empirical"},{"row":12.97,"t":"for"},{"row":13.98,"t":"and"},{"row":15.0,"t":"phase,"}]
},
"columns": 2,
"spacing": {"row": 0, "column": 160},
"bounds": "flush",
"resolve": {"scale": {"x": "independent", "y": "independent"}, "axis": {"x": "independent", "y": "independent"}},
"concat": [
 {
  "width": 550, "height": 277,
  "layer": [
   {"data": {"name": "obsA"}, "mark": {"type": "line", "stroke": "black", "strokeWidth": 0.8},
    "encoding": {"x": {"field": "x", "type": "quantitative", "scale": {"domain": [2.4, 11.0], "nice": false, "zero": false}, "axis": null},
                 "y": {"field": "y", "type": "quantitative", "scale": {"domain": [220, 855], "nice": false, "zero": false},
                       "axis": {"values": [220,230,240,250,260,270,280,290,300,310,320,330,340,350,360,370,380,390,400,410,420,430,440,450,460,470,480,490,500,510,520,530,540,550,560,570,580,590,600,610,620,630,640,650,660,670,680,690,700,710,720,730,740,750,760,770,780,790,800,810,820,830,840,850],
                                "tickCount": 500, "format": "d", "labelExpr": "datum.value % 50 === 0 ? datum.label : ''", "labelOverlap": false, "ticks": true, "tickSize": 5, "title": "Intensity (counts)", "titleX": -71, "titleY": 138.5, "titleAngle": -90, "titleBaseline": "middle", "titleAlign": "center"}}}},
   {"data": {"name": "obsA"}, "mark": {"type": "point", "shape": "diamond", "filled": false, "stroke": "black", "strokeWidth": 1.4, "size": 50, "opacity": 1},
    "encoding": {"x": {"field": "x", "type": "quantitative"}, "y": {"field": "y", "type": "quantitative"}}},
   {"data": {"values": [{}]}, "mark": {"type": "rule", "strokeWidth": 2.5, "color": "black"}, "encoding": {"x": {"datum": 5.5}, "y": {"datum": 731.9}, "y2": {"datum": 220}}},
   {"data": {"values": [{}]}, "mark": {"type": "rule", "strokeWidth": 2.5, "color": "black", "strokeCap": "square"}, "encoding": {"x": {"datum": 5.5}, "x2": {"datum": 5.72}, "y": {"datum": 731.9}}},
   {"data": {"values": [{}]}, "mark": {"type": "text", "text": "×5", "fontSize": 18, "align": "center", "baseline": "middle"}, "encoding": {"x": {"datum": 5.57}, "y": {"datum": 754}}},
   {"data": {"values": [{}]}, "mark": {"type": "text", "text": "C(Si(CH₃)₃)₄ at 0.07 GPa", "fontSize": 18, "align": "center", "baseline": "middle"}, "encoding": {"x": {"datum": 5.56}, "y": {"datum": 835}}},
   {"data": {"values": [{}]}, "mark": {"type": "point", "shape": "diamond", "filled": false, "stroke": "black", "strokeWidth": 1.2, "size": 150, "opacity": 1}, "encoding": {"x": {"datum": 8.51}, "y": {"datum": 793}}},
   {"data": {"values": [{}]}, "mark": {"type": "rule", "strokeWidth": 1, "color": "black"}, "encoding": {"x": {"datum": 8.128}, "x2": {"datum": 8.832}, "y": {"datum": 730.5}}},
   {"data": {"values": [{}]}, "mark": {"type": "rule", "strokeWidth": 1, "color": "#333"}, "encoding": {"x": {"datum": 8.128}, "x2": {"datum": 8.832}, "y": {"datum": 669.3}}},
   {"data": {"values": [{}]}, "mark": {"type": "rule", "strokeWidth": 1.2, "color": "#666"}, "encoding": {"x": {"datum": 8.51}, "y": {"datum": 600}, "y2": {"datum": 616}}},
   {"data": {"values": [{}]}, "mark": {"type": "text", "text": "Observed pattern", "fontSize": 18, "align": "left", "baseline": "middle"}, "encoding": {"x": {"datum": 9.004}, "y": {"datum": 793}}},
   {"data": {"values": [{}]}, "mark": {"type": "text", "text": "(a) Best fit profile", "fontSize": 18, "align": "left", "baseline": "middle"}, "encoding": {"x": {"datum": 9.004}, "y": {"datum": 730.5}}},
   {"data": {"values": [{}]}, "mark": {"type": "text", "text": "(b) Difference pattern", "fontSize": 18, "align": "left", "baseline": "middle"}, "encoding": {"x": {"datum": 9.004}, "y": {"datum": 669.3}}},
   {"data": {"values": [{}]}, "mark": {"type": "text", "text": "Reflection positions", "fontSize": 18, "align": "left", "baseline": "middle"}, "encoding": {"x": {"datum": 9.004}, "y": {"datum": 608}}},
   {"data": {"values": [{}]}, "mark": {"type": "text", "text": "(a)", "fontSize": 18, "fontStyle": "italic", "align": "left", "baseline": "middle"}, "encoding": {"x": {"datum": 11.1}, "y": {"datum": 363.7}}}
  ]
 },
 {
  "width": 552, "height": 277,
  "layer": [
   {"data": {"name": "textL"}, "mark": {"type": "text", "align": "left", "baseline": "middle", "fontSize": 25},
    "encoding": {"x": {"datum": 0, "type": "quantitative", "scale": {"domain": [86, 638], "nice": false, "zero": false}, "axis": null},
                 "y": {"field": "row", "type": "quantitative", "scale": {"domain": [1.4167, 11.909], "reverse": true, "nice": false, "zero": false}, "axis": null},
                 "text": {"field": "t"}}},
   {"data": {"name": "textR"}, "mark": {"type": "text", "align": "right", "baseline": "middle", "fontSize": 25},
    "encoding": {"x": {"datum": 659}, "y": {"field": "row", "type": "quantitative"}, "text": {"field": "t"}}},
   {"data": {"values": [{}]}, "mark": {"type": "text", "text": "The data of the relative volume in dependence", "align": "left", "baseline": "middle", "fontSize": 25}, "encoding": {"x": {"datum": 24}, "y": {"datum": 6}}},
   {"data": {"values": [{}]}, "mark": {"type": "text", "text": "V", "fontStyle": "italic", "align": "center", "baseline": "middle", "fontSize": 23}, "encoding": {"x": {"datum": 177}, "y": {"datum": 10.3}}},
   {"data": {"values": [{}]}, "mark": {"type": "rule", "strokeWidth": 1.3, "color": "black"}, "encoding": {"x": {"datum": 165}, "x2": {"datum": 193}, "y": {"datum": 10.81}}},
   {"data": {"values": [{}]}, "mark": {"type": "text", "text": "V₀", "fontStyle": "italic", "align": "center", "baseline": "middle", "fontSize": 23}, "encoding": {"x": {"datum": 180}, "y": {"datum": 11.33}}},
   {"data": {"values": [{}]}, "mark": {"type": "text", "text": "(T) = [P1 + P2(295 − T)]", "align": "left", "baseline": "middle", "fontSize": 27}, "encoding": {"x": {"datum": 200}, "y": {"datum": 10.78}}},
   {"data": {"values": [{}]}, "mark": {"type": "text", "text": "P3", "fontStyle": "italic", "align": "left", "baseline": "middle", "fontSize": 14}, "encoding": {"x": {"datum": 478}, "y": {"datum": 10.45}}},
   {"data": {"values": [{}]}, "mark": {"type": "text", "text": ",", "align": "left", "baseline": "middle", "fontSize": 27}, "encoding": {"x": {"datum": 500}, "y": {"datum": 10.78}}},
   {"data": {"values": [{}]}, "mark": {"type": "text", "text": "(3)", "align": "right", "baseline": "middle", "fontSize": 27}, "encoding": {"x": {"datum": 659}, "y": {"datum": 10.78}}}
  ]
 },
 {
  "width": 550, "height": 22,
  "layer": [
   {"data": {"name": "reflA"}, "mark": {"type": "rule", "strokeWidth": 1.2, "color": "#555"},
    "encoding": {"x": {"field": "x", "type": "quantitative", "scale": {"domain": [2.4, 11.0], "nice": false, "zero": false}, "axis": null},
                 "y": {"datum": 13, "type": "quantitative", "scale": {"domain": [0, 22], "reverse": true, "nice": false, "zero": false}, "axis": null}, "y2": {"datum": 20}}},
   {"data": {"values": [{}]}, "mark": {"type": "rule", "strokeWidth": 2.5, "color": "black"}, "encoding": {"x": {"datum": 5.5}, "y": {"datum": 0}, "y2": {"datum": 22}}}
  ]
 },
 {"width": 1, "height": 1, "data": {"values": []}, "mark": "point"},
 {
  "width": 550, "height": 67,
  "title": {"text": "(a)", "orient": "bottom", "anchor": "middle", "frame": "group", "fontStyle": "italic", "fontSize": 21, "offset": 10},
  "layer": [
   {"data": {"name": "diffA"}, "mark": {"type": "line", "stroke": "#222", "strokeWidth": 0.9},
    "encoding": {"x": {"field": "x", "type": "quantitative", "scale": {"domain": [2.4, 11.0], "nice": false, "zero": false},
                       "axis": {"values": [2.5,3,3.5,4,4.5,5,5.5,6,6.5,7,7.5,8,8.5,9,9.5,10,10.5,11], "tickCount": 500, "labelExpr": "datum.value % 2 === 0 ? '' + datum.value : ''", "labelOverlap": false, "ticks": true,
                                "tickSize": {"condition": {"test": "datum.value % 2 === 0", "value": 12}, "value": 6}, "labelPadding": 11, "title": "2Θ (°)", "titleFontSize": 21, "titleY": 53, "titleBaseline": "middle"}},
                 "y": {"field": "d", "type": "quantitative", "scale": {"domain": [-76.5, 76.5], "nice": false, "zero": false},
                       "axis": {"values": [-75,-50,-25,0,25,50,75], "tickCount": 500, "format": "d", "labelExpr": "datum.value % 50 === 0 ? datum.label : ''", "labelOverlap": false, "ticks": true, "tickSize": 6, "title": "Δ", "titleX": -66, "titleY": 33.5, "titleAngle": -90, "titleBaseline": "middle", "titleAlign": "center"}}}},
   {"data": {"values": [{}]}, "mark": {"type": "rule", "strokeWidth": 2.5, "color": "black"}, "encoding": {"x": {"datum": 5.5}, "y": {"datum": 76.5}, "y2": {"datum": -76.5}}},
   {"data": {"values": [{}]}, "mark": {"type": "text", "text": "(b)", "fontSize": 18, "fontStyle": "italic", "align": "left", "baseline": "middle"}, "encoding": {"x": {"datum": 11.1}, "y": {"datum": 0}}}
  ]
 },
 {"width": 1, "height": 1, "data": {"values": []}, "mark": "point"},
 {"width": 1, "height": 125, "data": {"values": []}, "mark": "point"},
 {"width": 1, "height": 125, "data": {"values": []}, "mark": "point"},
 {
  "width": 552, "height": 276,
  "layer": [
   {"data": {"name": "obsB"}, "mark": {"type": "line", "stroke": "black", "strokeWidth": 0.8},
    "encoding": {"x": {"field": "x", "type": "quantitative", "scale": {"domain": [2.2, 12.0], "nice": false, "zero": false}, "axis": null},
                 "y": {"field": "y", "type": "quantitative", "scale": {"domain": [147, 611], "nice": false, "zero": false},
                       "axis": {"values": [150,160,170,180,190,200,210,220,230,240,250,260,270,280,290,300,310,320,330,340,350,360,370,380,390,400,410,420,430,440,450,460,470,480,490,500,510,520,530,540,550,560,570,580,590,600,610],
                                "tickCount": 500, "format": "d", "labelExpr": "datum.value % 50 === 0 ? datum.label : ''", "labelOverlap": false, "ticks": true, "tickSize": 5, "title": "Intensity (counts)", "titleX": -71, "titleY": 138, "titleAngle": -90, "titleBaseline": "middle", "titleAlign": "center"}}}},
   {"data": {"name": "obsB"}, "mark": {"type": "point", "shape": "diamond", "filled": false, "stroke": "black", "strokeWidth": 1.4, "size": 50, "opacity": 1},
    "encoding": {"x": {"field": "x", "type": "quantitative"}, "y": {"field": "y", "type": "quantitative"}}},
   {"data": {"values": [{}]}, "mark": {"type": "rule", "strokeWidth": 2.5, "color": "black"}, "encoding": {"x": {"datum": 5.0}, "y": {"datum": 516.9}, "y2": {"datum": 147}}},
   {"data": {"values": [{}]}, "mark": {"type": "rule", "strokeWidth": 2.5, "color": "black", "strokeCap": "square"}, "encoding": {"x": {"datum": 5.0}, "x2": {"datum": 5.26}, "y": {"datum": 516.9}}},
   {"data": {"values": [{}]}, "mark": {"type": "text", "text": "×5", "fontSize": 18, "align": "center", "baseline": "middle"}, "encoding": {"x": {"datum": 5.11}, "y": {"datum": 534}}},
   {"data": {"values": [{}]}, "mark": {"type": "text", "text": "C(Si(CH₃)₃)₄ at 0.2 GPa", "fontSize": 18, "align": "center", "baseline": "middle"}, "encoding": {"x": {"datum": 5.32}, "y": {"datum": 592.5}}},
   {"data": {"values": [{}]}, "mark": {"type": "point", "shape": "diamond", "filled": false, "stroke": "black", "strokeWidth": 1.2, "size": 150, "opacity": 1}, "encoding": {"x": {"datum": 9.132}, "y": {"datum": 581.2}}},
   {"data": {"values": [{}]}, "mark": {"type": "rule", "strokeWidth": 1, "color": "black"}, "encoding": {"x": {"datum": 8.769}, "x2": {"datum": 9.567}, "y": {"datum": 536.5}}},
   {"data": {"values": [{}]}, "mark": {"type": "rule", "strokeWidth": 1, "color": "#333"}, "encoding": {"x": {"datum": 8.769}, "x2": {"datum": 9.567}, "y": {"datum": 491.6}}},
   {"data": {"values": [{}]}, "mark": {"type": "rule", "strokeWidth": 1.2, "color": "#666"}, "encoding": {"x": {"datum": 9.173}, "y": {"datum": 441.5}, "y2": {"datum": 454.3}}},
   {"data": {"values": [{}]}, "mark": {"type": "text", "text": "Observed pattern", "fontSize": 18, "align": "left", "baseline": "middle"}, "encoding": {"x": {"datum": 9.727}, "y": {"datum": 581.2}}},
   {"data": {"values": [{}]}, "mark": {"type": "text", "text": "(a) Best fit profile", "fontSize": 18, "align": "left", "baseline": "middle"}, "encoding": {"x": {"datum": 9.727}, "y": {"datum": 536.5}}},
   {"data": {"values": [{}]}, "mark": {"type": "text", "text": "(b) Difference pattern", "fontSize": 18, "align": "left", "baseline": "middle"}, "encoding": {"x": {"datum": 9.727}, "y": {"datum": 491.6}}},
   {"data": {"values": [{}]}, "mark": {"type": "text", "text": "Reflection positions", "fontSize": 18, "align": "left", "baseline": "middle"}, "encoding": {"x": {"datum": 9.727}, "y": {"datum": 447.9}}},
   {"data": {"values": [{}]}, "mark": {"type": "text", "text": "(a)", "fontSize": 18, "fontStyle": "italic", "align": "left", "baseline": "middle"}, "encoding": {"x": {"datum": 12.03}, "y": {"datum": 379.5}}}
  ]
 },
 {
  "width": 552, "height": 276,
  "layer": [
   {"data": {"name": "obsC"}, "mark": {"type": "line", "stroke": "black", "strokeWidth": 0.8},
    "encoding": {"x": {"field": "x", "type": "quantitative", "scale": {"domain": [2.4, 15.6], "nice": false, "zero": false}, "axis": null},
                 "y": {"field": "y", "type": "quantitative", "scale": {"domain": [148.5, 430], "nice": false, "zero": false},
                       "axis": {"values": [150,160,170,180,190,200,210,220,230,240,250,260,270,280,290,300,310,320,330,340,350,360,370,380,390,400,410,420,430],
                                "tickCount": 500, "format": "d", "labelExpr": "datum.value % 50 === 0 ? datum.label : ''", "labelOverlap": false, "ticks": true, "tickSize": 5, "title": "Intensity (counts)", "titleX": -72, "titleY": 138, "titleAngle": -90, "titleBaseline": "middle", "titleAlign": "center"}}}},
   {"data": {"name": "obsC"}, "mark": {"type": "point", "shape": "diamond", "filled": false, "stroke": "black", "strokeWidth": 1.4, "size": 50, "opacity": 1},
    "encoding": {"x": {"field": "x", "type": "quantitative"}, "y": {"field": "y", "type": "quantitative"}}},
   {"data": {"values": [{}]}, "mark": {"type": "rule", "strokeWidth": 2.5, "color": "black"}, "encoding": {"x": {"datum": 5.5}, "y": {"datum": 374.6}, "y2": {"datum": 148.5}}},
   {"data": {"values": [{}]}, "mark": {"type": "rule", "strokeWidth": 2.5, "color": "black", "strokeCap": "square"}, "encoding": {"x": {"datum": 5.5}, "x2": {"datum": 5.836}, "y": {"datum": 374.6}}},
   {"data": {"values": [{}]}, "mark": {"type": "text", "text": "×3", "fontSize": 18, "align": "center", "baseline": "middle"}, "encoding": {"x": {"datum": 5.63}, "y": {"datum": 385}}},
   {"data": {"values": [{}]}, "mark": {"type": "text", "text": "C(Si(CH₃)₃)₄ at 3.2 GPa", "fontSize": 18, "align": "center", "baseline": "middle"}, "encoding": {"x": {"datum": 9.76}, "y": {"datum": 416.5}}},
   {"data": {"values": [{}]}, "mark": {"type": "point", "shape": "diamond", "filled": false, "stroke": "black", "strokeWidth": 1.2, "size": 150, "opacity": 1}, "encoding": {"x": {"datum": 11.694}, "y": {"datum": 259}}},
   {"data": {"values": [{}]}, "mark": {"type": "rule", "strokeWidth": 1, "color": "black"}, "encoding": {"x": {"datum": 11.176}, "x2": {"datum": 12.204}, "y": {"datum": 233.5}}},
   {"data": {"values": [{}]}, "mark": {"type": "rule", "strokeWidth": 1, "color": "#333", "strokeDash": [30, 3, 2, 3]}, "encoding": {"x": {"datum": 11.176}, "x2": {"datum": 12.204}, "y": {"datum": 206.3}}},
   {"data": {"values": [{}]}, "mark": {"type": "rule", "strokeWidth": 1.2, "color": "#666"}, "encoding": {"x": {"datum": 11.694}, "y": {"datum": 175}, "y2": {"datum": 183.2}}},
   {"data": {"values": [{}]}, "mark": {"type": "text", "text": "Observed pattern", "fontSize": 18, "align": "left", "baseline": "middle"}, "encoding": {"x": {"datum": 12.474}, "y": {"datum": 259}}},
   {"data": {"values": [{}]}, "mark": {"type": "text", "text": "(a) Best fit profile", "fontSize": 18, "align": "left", "baseline": "middle"}, "encoding": {"x": {"datum": 12.474}, "y": {"datum": 233.5}}},
   {"data": {"values": [{}]}, "mark": {"type": "text", "text": "(b) Difference pattern", "fontSize": 18, "align": "left", "baseline": "middle", "limit": 160, "ellipsis": ""}, "encoding": {"x": {"datum": 12.474}, "y": {"datum": 206.3}}},
   {"data": {"values": [{}]}, "mark": {"type": "text", "text": "Reflection positions", "fontSize": 18, "align": "left", "baseline": "middle"}, "encoding": {"x": {"datum": 12.474}, "y": {"datum": 179.1}}},
   {"data": {"values": [{}]}, "mark": {"type": "text", "text": "(a)", "fontSize": 18, "fontStyle": "italic", "align": "left", "baseline": "middle"}, "encoding": {"x": {"datum": 15.67}, "y": {"datum": 405.5}}}
  ]
 },
 {
  "width": 552, "height": 20,
  "layer": [
   {"data": {"name": "reflB"}, "mark": {"type": "rule", "strokeWidth": 1.2, "color": "#555"},
    "encoding": {"x": {"field": "x", "type": "quantitative", "scale": {"domain": [2.2, 12.0], "nice": false, "zero": false}, "axis": null},
                 "y": {"datum": 0.5, "type": "quantitative", "scale": {"domain": [0, 20], "reverse": true, "nice": false, "zero": false}, "axis": null}, "y2": {"datum": 7.5}}},
   {"data": {"values": [{}]}, "mark": {"type": "rule", "strokeWidth": 2.5, "color": "black"}, "encoding": {"x": {"datum": 5.0}, "y": {"datum": 0}, "y2": {"datum": 20}}}
  ]
 },
 {
  "width": 552, "height": 20,
  "layer": [
   {"data": {"name": "reflC"}, "mark": {"type": "rule", "strokeWidth": 1.2, "color": "#555"},
    "encoding": {"x": {"field": "x", "type": "quantitative", "scale": {"domain": [2.4, 15.6], "nice": false, "zero": false}, "axis": null},
                 "y": {"datum": 0.5, "type": "quantitative", "scale": {"domain": [0, 20], "reverse": true, "nice": false, "zero": false}, "axis": null}, "y2": {"datum": 7}}},
   {"data": {"values": [{}]}, "mark": {"type": "rule", "strokeWidth": 2.5, "color": "black"}, "encoding": {"x": {"datum": 5.5}, "y": {"datum": 0}, "y2": {"datum": 20}}}
  ]
 },
 {
  "width": 552, "height": 69,
  "title": {"text": "(b)", "orient": "bottom", "anchor": "middle", "frame": "group", "fontStyle": "italic", "fontSize": 21, "offset": 6},
  "layer": [
   {"data": {"name": "diffB"}, "mark": {"type": "line", "stroke": "#222", "strokeWidth": 0.9},
    "encoding": {"x": {"field": "x", "type": "quantitative", "scale": {"domain": [2.2, 12.0], "nice": false, "zero": false},
                       "axis": {"values": [2.5,3,3.5,4,4.5,5,5.5,6,6.5,7,7.5,8,8.5,9,9.5,10,10.5,11,11.5,12], "tickCount": 500, "labelExpr": "datum.value % 2 === 0 ? '' + datum.value : ''", "labelOverlap": false, "ticks": true,
                                "tickSize": {"condition": {"test": "datum.value % 2 === 0", "value": 12}, "value": 6}, "labelPadding": 11, "title": "2Θ (°)", "titleFontSize": 21, "titleY": 53, "titleBaseline": "middle"}},
                 "y": {"field": "d", "type": "quantitative", "scale": {"domain": [-60, 56], "nice": false, "zero": false},
                       "axis": {"values": [-50,-37.5,-25,-12.5,0,12.5,25,37.5,50], "tickCount": 500, "format": "d", "labelExpr": "datum.value % 50 === 0 ? datum.label : ''", "labelOverlap": false, "ticks": true, "tickSize": 6, "title": "Δ", "titleX": -66, "titleY": 33.5, "titleAngle": -90, "titleBaseline": "middle", "titleAlign": "center"}}}},
   {"data": {"values": [{}]}, "mark": {"type": "rule", "strokeWidth": 2.5, "color": "black"}, "encoding": {"x": {"datum": 5.0}, "y": {"datum": 56}, "y2": {"datum": -60}}},
   {"data": {"values": [{}]}, "mark": {"type": "text", "text": "(b)", "fontSize": 18, "fontStyle": "italic", "align": "left", "baseline": "middle"}, "encoding": {"x": {"datum": 12.03}, "y": {"datum": 0}}}
  ]
 },
 {
  "width": 552, "height": 69,
  "title": {"text": "(c)", "orient": "bottom", "anchor": "middle", "frame": "group", "fontStyle": "italic", "fontSize": 21, "offset": 6},
  "layer": [
   {"data": {"name": "diffC"}, "mark": {"type": "line", "stroke": "#222", "strokeWidth": 0.9},
    "encoding": {"x": {"field": "x", "type": "quantitative", "scale": {"domain": [2.4, 15.6], "nice": false, "zero": false},
                       "axis": {"values": [2.5,3,3.5,4,4.5,5,5.5,6,6.5,7,7.5,8,8.5,9,9.5,10,10.5,11,11.5,12,12.5,13,13.5,14,14.5,15,15.5], "tickCount": 500, "labelExpr": "datum.value % 2 === 0 ? '' + datum.value : ''", "labelOverlap": false, "ticks": true,
                                "tickSize": {"condition": {"test": "datum.value % 2 === 0", "value": 12}, "value": 6}, "labelPadding": 11, "title": "2Θ (°)", "titleFontSize": 21, "titleY": 53, "titleBaseline": "middle"}},
                 "y": {"field": "d", "type": "quantitative", "scale": {"domain": [-35.5, 35], "nice": false, "zero": false},
                       "axis": {"values": [-30,-22.5,-15,-7.5,0,7.5,15,22.5,30], "tickCount": 500, "format": "d", "labelExpr": "datum.value % 30 === 0 ? datum.label : ''", "labelOverlap": false, "ticks": true, "tickSize": 6, "title": "Δ", "titleX": -64, "titleY": 34.5, "titleAngle": -90, "titleBaseline": "middle", "titleAlign": "center"}}}},
   {"data": {"values": [{}]}, "mark": {"type": "rule", "strokeWidth": 2.5, "color": "black"}, "encoding": {"x": {"datum": 5.5}, "y": {"datum": 35}, "y2": {"datum": -35.5}}},
   {"data": {"values": [{}]}, "mark": {"type": "text", "text": "(b)", "fontSize": 18, "fontStyle": "italic", "align": "left", "baseline": "middle"}, "encoding": {"x": {"datum": 15.67}, "y": {"datum": 0}}}
  ]
 }
]
}
